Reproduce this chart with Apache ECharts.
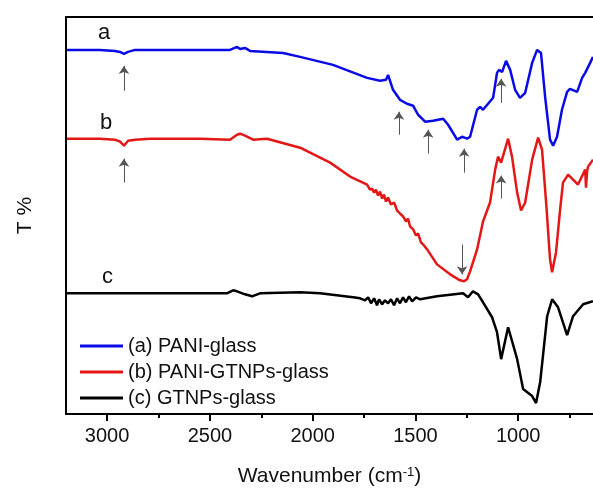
<!DOCTYPE html>
<html>
<head>
<meta charset="utf-8">
<script src="https://cdn.jsdelivr.net/npm/echarts@6/dist/echarts.min.js"></script>
<style>
  html, body { margin: 0; padding: 0; background: #fff; }
  #main { width: 593px; height: 492px; }
</style>
</head>
<body>
<div id="main"></div>
<script>
// 横轴：波数 (cm-1)，纵轴：透过率(任意单位，曲线上下错开)
const majorTicks = [3000, 2500, 2000, 1500, 1000];
const minorTicks = [3000, 2750, 2500, 2250, 2000, 1750, 1500, 1250, 1000, 750];

// (a) PANI-glass
const paniWn = [3195, 3035, 2962, 2937, 2918, 2898, 2864, 2791, 2548, 2402, 2368, 2353, 2329, 2305,
  2144, 2061, 1901, 1735, 1672, 1643, 1633, 1609, 1575, 1541, 1511, 1487, 1453, 1414, 1365, 1341,
  1297, 1273, 1249, 1234, 1200, 1185, 1171, 1122, 1103, 1093, 1078, 1059, 1039, 1015, 991, 966,
  932, 908, 889, 869, 845, 830, 811, 787, 762, 748, 713, 689, 674, 650, 636];
const paniT = [365, 365, 364, 363, 361, 363, 365, 365, 365, 365, 368, 366, 367, 364,
  362, 358, 350, 337, 334, 335, 340, 325, 315, 311, 309, 300, 293, 294, 296, 290,
  275, 278, 276, 278, 305, 308, 305, 317, 342, 345, 343, 354, 345, 325, 317, 322,
  352, 365, 362, 318, 275, 269, 278, 305, 323, 326, 323, 337, 342, 352, 358];

// (b) PANI-GTNPs-glass
const paniGtWn = [3195, 3035, 2962, 2937, 2918, 2898, 2864, 2791, 2548, 2402, 2368, 2353, 2329, 2290,
  2222, 2061, 1915, 1818, 1735, 1721, 1711, 1701, 1692, 1682, 1672, 1662, 1653, 1643, 1633, 1619,
  1604, 1589, 1575, 1560, 1546, 1536, 1526, 1511, 1497, 1487, 1473, 1458, 1443, 1395, 1331, 1283,
  1263, 1249, 1234, 1200, 1171, 1137, 1112, 1098, 1083, 1049, 1030, 1005, 986, 966, 932, 903, 884,
  864, 845, 835, 816, 796, 782, 757, 709, 674, 670, 665, 660, 636];
const paniGtT = [276, 276, 275, 273, 269, 274, 275, 276, 276, 275, 280, 281, 279, 275,
  276, 267, 252, 238, 230, 225, 226, 222, 225, 219, 223, 216, 220, 213, 217, 210,
  212, 204, 201, 198, 193, 196, 188, 185, 179, 181, 172, 169, 165, 150, 140, 134,
  133, 135, 143, 165, 193, 212, 245, 258, 252, 276, 258, 222, 204, 212, 255, 277, 265,
  212, 155, 142, 162, 205, 232, 240, 230, 245, 227, 243, 248, 255];

// (c) GTNPs-glass
const gtnpWn = [3195, 2417, 2387, 2368, 2329, 2295, 2256, 2061, 1964, 1803, 1769, 1745, 1730, 1716,
  1701, 1687, 1677, 1662, 1648, 1633, 1619, 1604, 1589, 1575, 1560, 1546, 1531, 1516, 1497, 1477,
  1395, 1268, 1244, 1220, 1195, 1171, 1127, 1103, 1083, 1049, 1005, 976, 932, 913, 893, 859, 835,
  806, 762, 733, 684, 636];
const gtnpT = [121, 121, 124, 123, 120, 118, 121, 122, 121, 117, 116, 114, 117, 111,
  116, 109, 115, 110, 114, 111, 115, 109, 116, 111, 117, 112, 118, 113, 117, 115,
  118, 121, 117, 123, 120, 112, 97, 82, 55, 87, 55, 25, 18, 11, 32, 98, 115,
  107, 79, 98, 110, 113];

// 箭头：[波数, 箭尾, 箭头尖]
const arrows = [
  [2918, 324, 349], [2918, 232, 256],
  [1580, 280, 303], [1438, 261, 285], [1263, 242, 266],
  [1083, 312, 336], [1083, 216, 239],
  [1273, 170, 140]
];

const seriesNames = ['(a) PANI-glass', '(b) PANI-GTNPs-glass', '(c) GTNPs-glass'];
const seriesColors = ['#0a0ae6', '#e51616', '#000000'];

function pairs(xs, ys) {
  return xs.map(function (x, i) { return [x, ys[i]]; });
}

let chart = echarts.init(document.getElementById('main'), null, { renderer: 'canvas' });

let xBase = {
  type: 'value',
  min: 636,
  max: 3200,
  inverse: true,
  gridIndex: 0,
  splitLine: { show: false },
  axisLine: { onZero: false, lineStyle: { color: '#000', width: 2 } }
};

let option = {
  animation: false,
  backgroundColor: '#fff',
  grid: { left: 66, right: 0, top: 17, bottom: 77 },
  legend: {
    data: seriesNames,
    orient: 'vertical',
    left: 75,
    top: 331,
    icon: 'rect',
    itemWidth: 43,
    itemHeight: 3,
    itemGap: 6,
    textStyle: { fontFamily: 'Liberation Sans, Arial', fontSize: 20, color: '#111', lineHeight: 20 }
  },
  xAxis: [
    Object.assign({}, xBase, {
      position: 'bottom',
      name: 'Wavenumber (cm{sup|-1})',
      nameLocation: 'middle',
      nameGap: 52,
      nameTextStyle: {
        fontFamily: 'Liberation Sans, Arial', fontSize: 21, color: '#111',
        rich: { sup: { fontFamily: 'Liberation Sans, Arial', fontSize: 13, color: '#111', verticalAlign: 'top' } }
      },
      axisTick: { show: true, inside: false, length: 7, customValues: majorTicks, lineStyle: { color: '#000', width: 2 } },
      axisLabel: {
        show: true, margin: 12, customValues: majorTicks,
        formatter: function (v) { return String(v); },
        fontFamily: 'Liberation Sans, Arial', fontSize: 20, color: '#111'
      }
    }),
    Object.assign({}, xBase, {
      position: 'bottom',
      axisTick: { show: true, inside: false, length: 4, customValues: minorTicks, lineStyle: { color: '#000', width: 2 } },
      axisLabel: { show: false }
    }),
    Object.assign({}, xBase, {
      position: 'top',
      axisTick: { show: false },
      axisLabel: { show: false }
    })
  ],
  yAxis: {
    type: 'value',
    min: 0,
    max: 398,
    name: 'T %',
    nameLocation: 'middle',
    nameGap: 30,
    nameTextStyle: { fontFamily: 'Liberation Sans, Arial', fontSize: 21, color: '#111' },
    splitLine: { show: false },
    axisTick: { show: false },
    axisLabel: { show: false },
    axisLine: { show: true, onZero: false, lineStyle: { color: '#000', width: 2 } }
  },
  graphic: [
    { type: 'text', left: 98, top: 22, style: { text: 'a', fontFamily: 'Liberation Sans, Arial', fontSize: 22, fill: '#111' } },
    { type: 'text', left: 100, top: 112, style: { text: 'b', fontFamily: 'Liberation Sans, Arial', fontSize: 22, fill: '#111' } },
    { type: 'text', left: 102, top: 266, style: { text: 'c', fontFamily: 'Liberation Sans, Arial', fontSize: 22, fill: '#111' } }
  ],
  series: [
    {
      name: seriesNames[0], type: 'line', xAxisIndex: 0, yAxisIndex: 0,
      data: pairs(paniWn, paniT), showSymbol: false, symbol: 'none',
      lineStyle: { color: seriesColors[0], width: 2.5 }, itemStyle: { color: seriesColors[0] },
      markLine: {
        silent: true,
        symbol: ['none', 'arrow'],
        symbolSize: 8,
        label: { show: false },
        itemStyle: { color: '#222' },
        lineStyle: { color: '#555', width: 1, type: 'solid' },
        data: arrows.map(function (a) { return [{ coord: [a[0], a[1]] }, { coord: [a[0], a[2]] }]; })
      }
    },
    {
      name: seriesNames[1], type: 'line', xAxisIndex: 0, yAxisIndex: 0,
      data: pairs(paniGtWn, paniGtT), showSymbol: false, symbol: 'none',
      lineStyle: { color: seriesColors[1], width: 2.5 }, itemStyle: { color: seriesColors[1] }
    },
    {
      name: seriesNames[2], type: 'line', xAxisIndex: 0, yAxisIndex: 0,
      data: pairs(gtnpWn, gtnpT), showSymbol: false, symbol: 'none',
      lineStyle: { color: seriesColors[2], width: 2.5 }, itemStyle: { color: seriesColors[2] }
    }
  ]
};

chart.setOption(option);
</script>
</body>
</html>
